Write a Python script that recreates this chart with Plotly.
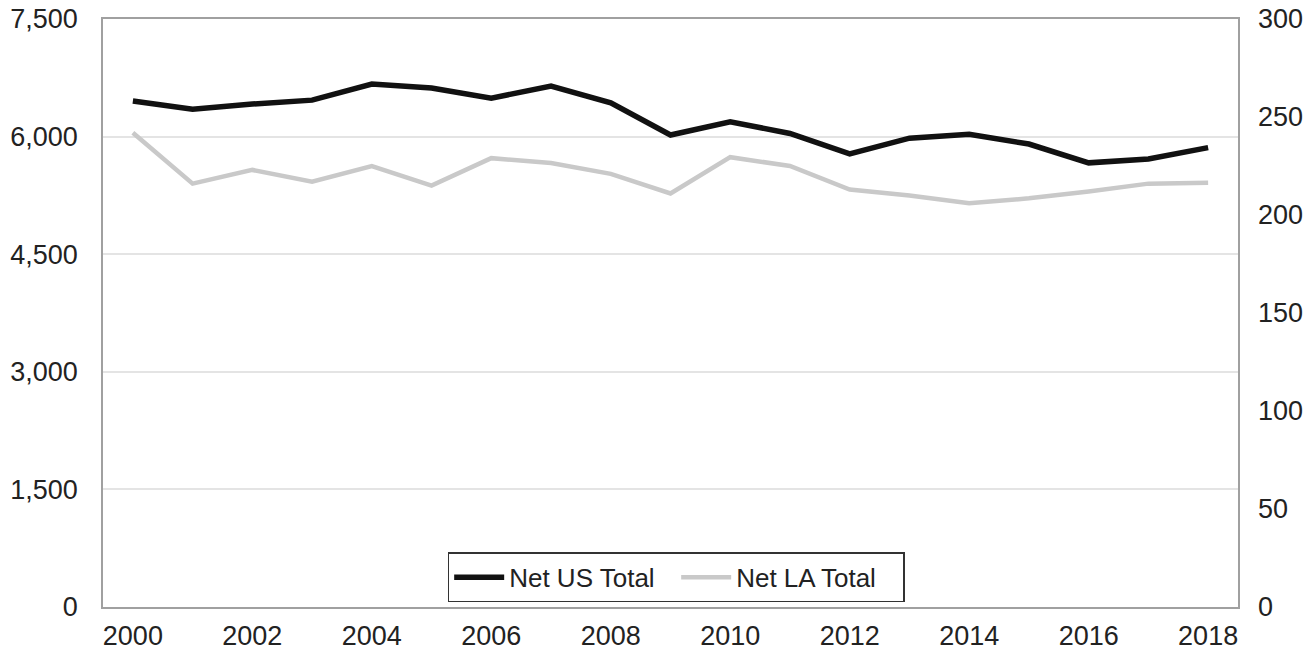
import plotly.graph_objects as go

# Data
years = list(range(2000, 2019))
net_us_total = [6455, 6350, 6415, 6465, 6670, 6620, 6490, 6645, 6430, 6020,
                6190, 6040, 5780, 5980, 6030, 5905, 5665, 5715, 5860]
net_la_total = [242, 216, 223, 217, 225, 215, 229, 226.5, 221, 211,
                229.5, 225, 213, 210, 206, 208.5, 212, 216, 216.5]

fig = go.Figure()

fig.add_trace(go.Scatter(x=years, y=net_us_total, name="Net US Total",
                         mode="lines", line=dict(color="#111111", width=5.5)))
fig.add_trace(go.Scatter(x=years, y=net_la_total, name="Net LA Total",
                         mode="lines", line=dict(color="#c9c9c9", width=4.5),
                         yaxis="y2"))

font = dict(family="Liberation Sans, Arial, sans-serif", size=27, color="#222222")

fig.update_layout(
    width=1310, height=654,
    margin=dict(l=103, r=72, t=19, b=47),
    paper_bgcolor="white", plot_bgcolor="white",
    font=font,
    showlegend=True,
    legend=dict(orientation="h", x=0.505, xanchor="center", y=0.008, yanchor="bottom",
                bgcolor="white", bordercolor="#333333", borderwidth=1.5,
                font=dict(family=font["family"], size=26, color="#222222"),
                itemwidth=50, entrywidth=162, entrywidthmode="pixels",
                tracegroupgap=0),
    xaxis=dict(range=[1999.5, 2018.5], dtick=2, tick0=2000, showgrid=False,
               showline=True, linecolor="#a0a0a0", linewidth=1.5, mirror=True,
               ticks="", zeroline=False, ticklabelstandoff=4, automargin=False),
    yaxis=dict(range=[0, 7500], dtick=1500, tickformat=",", showgrid=True,
               gridcolor="#e4e4e4", gridwidth=1.5, showline=True,
               linecolor="#a0a0a0", linewidth=1.5, mirror=True, ticks="",
               zeroline=False, ticklabelstandoff=18, automargin=False),
    yaxis2=dict(range=[0, 300], dtick=50, overlaying="y", side="right",
                showgrid=False, showline=False, ticks="", zeroline=False,
                ticklabelstandoff=19, automargin=False),
)

fig.write_html("out.html", config={"displayModeBar": False},
               post_script="document.body.style.margin='0';document.body.style.padding='0';")
